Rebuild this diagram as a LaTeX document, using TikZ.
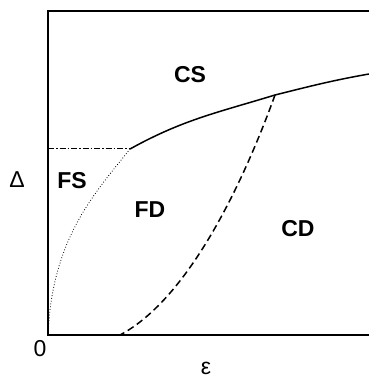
\documentclass[tikz,border=0pt]{standalone}
\usepackage{fontspec}
\setmainfont{Liberation Sans}
\usetikzlibrary{positioning}
\tikzset{
  region/.style={font=\fontsize{23}{26}\selectfont\bfseries},
  axlabel/.style={font=\fontsize{23}{26}\selectfont},
  border/.style={line width=2.2pt},
  phase/.style={line width=1.5pt}
}
\begin{document}
\begin{tikzpicture}[x=1pt,y=1pt]
  \useasboundingbox (0,0) rectangle (369,378);
  % frame of the diagram
  \coordinate (org) at (48,43);
  \coordinate (tl) at (48,367);
  \coordinate (tr) at (369,367);
  \coordinate (br) at (369,43);
  \draw[border] (tr) -- (tl) -- (org) -- (br);

  % phase boundaries
  \coordinate (tp) at (130,229);   % triple point
  \coordinate (up) at (275,283);
  \coordinate (rt) at (369,304);
  \coordinate (lt) at (48,229);
  \coordinate (bt) at (120,43);
  \draw[phase] (tp) to[out=29,in=197] (up) to[out=14,in=190] (rt);
  \draw[line width=1pt,dash pattern=on 6pt off 2pt on 1.5pt off 2pt] (lt) -- (tp);
  \draw[line width=0.8pt,dotted] (org) .. controls (52,140) and (95,185) .. (tp);
  \draw[phase,dash pattern=on 7pt off 4pt] (up) .. controls (245,200) and (190,80) .. (bt);

  % labels
  \node[region] (cs) at (190,303) {CS};
  \node[region] (fs) at (72,197) {FS};
  \node[region] (fd) at (150,168) {FD};
  \node[region] (cd) at (298,149) {CD};
  \node[axlabel] (delta) at (17,198) {Δ};
  \node[axlabel] (zero) at (40,29) {0};
  \node[axlabel] (eps) at (206,10) {ε};
\end{tikzpicture}
\end{document}
